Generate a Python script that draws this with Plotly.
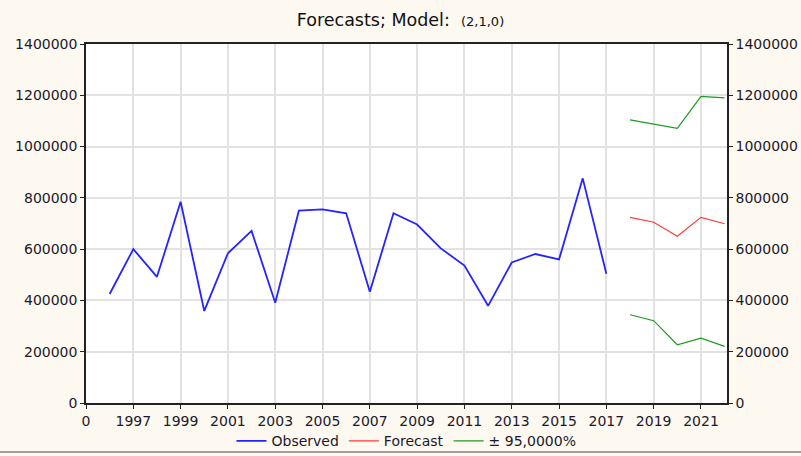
import plotly.graph_objects as go

obs_years = list(range(1996, 2018))
observed = [425000, 600000, 492000, 785000, 359000, 584000, 671000, 391000, 750000, 755000,
            740000, 434000, 740000, 696000, 603000, 536000, 379000, 548000, 581000, 560000,
            876000, 504000]
fc_years = [2018, 2019, 2020, 2021, 2022]
forecast = [724000, 705000, 650000, 724000, 699000]
upper95 = [1104000, 1088000, 1071000, 1196000, 1190000]
lower95 = [344000, 321000, 227000, 253000, 221000]

tick_years = [1995] + list(range(1997, 2022, 2))
tick_text = ["0"] + [str(y) for y in range(1997, 2022, 2)]
y_ticks = list(range(0, 1400001, 200000))

FONT = "DejaVu Sans, Verdana, sans-serif"

fig = go.Figure()
fig.add_trace(go.Scatter(x=obs_years, y=observed, mode="lines", name="Observed",
                         line=dict(color="#2424ff", width=1.8)))
fig.add_trace(go.Scatter(x=fc_years, y=forecast, mode="lines", name="Forecast",
                         line=dict(color="#ff3a3a", width=1.2)))
fig.add_trace(go.Scatter(x=fc_years, y=upper95, mode="lines", name="± 95,0000%",
                         line=dict(color="#1f9a1f", width=1.2)))
fig.add_trace(go.Scatter(x=fc_years, y=lower95, mode="lines", name="± 95,0000%",
                         showlegend=False, line=dict(color="#1f9a1f", width=1.2)))
# invisible trace for right axis
fig.add_trace(go.Scatter(x=[1995], y=[0], yaxis="y2", mode="markers",
                         marker=dict(opacity=0), showlegend=False, hoverinfo="skip"))

axis_font = dict(family=FONT, size=14, color="#1c1a2a")
fig.update_layout(
    width=801, height=456,
    paper_bgcolor="#fdf8f0", plot_bgcolor="white",
    margin=dict(l=86, r=74, t=44, b=53, autoexpand=False),
    title=dict(text="Forecasts; Model:  <span style='font-size:13px'>(2,1,0)</span>",
               x=0.5, xanchor="center", y=0.956, yanchor="middle",
               font=dict(family=FONT, size=17.5, color="#111")),
    xaxis=dict(range=[1995, 2022.1], tickmode="array", tickvals=tick_years, ticktext=tick_text,
               showgrid=True, gridcolor="#e2e2e2", gridwidth=1.5, zeroline=False,
               showline=True, linecolor="#222", linewidth=1.5, mirror=True,
               ticks="outside", ticklen=4, tickcolor="#222", tickfont=axis_font),
    yaxis=dict(range=[0, 1400000], tickmode="array", tickvals=y_ticks,
               ticktext=[str(v) for v in y_ticks],
               showgrid=True, gridcolor="#e2e2e2", gridwidth=1.5, zeroline=False,
               showline=True, linecolor="#222", linewidth=1.5,
               ticks="outside", ticklen=4, tickcolor="#222", tickfont=axis_font),
    yaxis2=dict(range=[0, 1400000], tickmode="array", tickvals=y_ticks,
                ticktext=[str(v) for v in y_ticks], overlaying="y", side="right",
                showgrid=False, zeroline=False, showline=True, linecolor="#222", linewidth=1.5,
                ticks="outside", ticklen=4, tickcolor="#222", tickfont=axis_font),
    legend=dict(orientation="h", x=0.5, xanchor="center", y=-0.062, yanchor="top",
                font=dict(family=FONT, size=14, color="#1c1a2a"),
                bgcolor="rgba(0,0,0,0)", itemwidth=30, tracegroupgap=0),
    shapes=[dict(type="line", xref="paper", yref="paper", x0=-0.2, x1=1.2,
                 y0=-0.1365, y1=-0.1365, line=dict(color="#a0a0a0", width=2))],
)

fig.write_html("out.html", config={"displayModeBar": False},
               post_script="document.body.style.margin='0';document.body.style.background='#fdf8f0';")
